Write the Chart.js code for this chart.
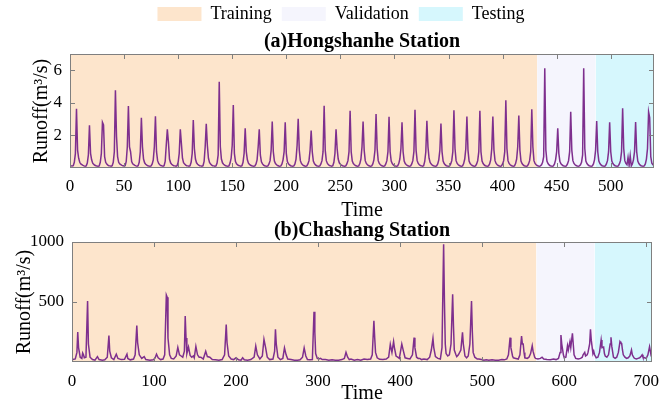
<!DOCTYPE html>
<html>
<head>
<meta charset="utf-8">
<script src="https://cdn.jsdelivr.net/npm/chart.js@4.4.1/dist/chart.umd.min.js"></script>
<style>
  html, body { margin: 0; padding: 0; background: #fff; }
  #wrap { position: relative; width: 669px; height: 409px; }
  canvas { position: absolute; left: 0; }
  #ca { top: 0; }
  #cb { top: 221px; }
</style>
</head>
<body>
<div id="wrap">
  <canvas id="ca" width="669" height="223" style="width:669px;height:223px"></canvas>
  <canvas id="cb" width="669" height="188" style="width:669px;height:188px"></canvas>
</div>
<script>
// (a) Hongshanhe: monthly runoff, one row per year (x = 1..540)
const hongshanheFlow = [
  0.14,0.12,0.14,0.35,0.9,3.63,1.1,0.6,0.35,0.25,0.2,0.16,
  0.13,0.11,0.13,0.3,0.8,2.63,0.9,0.5,0.3,0.22,0.17,0.14,
  0.12,0.11,0.13,0.35,0.9,2.81,2.65,0.7,0.35,0.24,0.18,0.14,
  0.13,0.11,0.14,0.35,1.0,4.78,1.95,0.7,0.35,0.25,0.2,0.16,
  0.14,0.12,0.14,0.4,1.3,3.81,1.3,1.0,0.4,0.26,0.2,0.16,
  0.13,0.11,0.14,0.35,1.0,3.08,1.3,0.55,0.32,0.23,0.18,0.14,
  0.12,0.11,0.13,0.25,0.5,1.3,3.18,1.0,0.45,0.28,0.2,0.15,
  0.13,0.11,0.14,0.4,1.4,2.38,1.6,0.55,0.32,0.23,0.18,0.14,
  0.13,0.11,0.14,0.35,0.9,2.38,1.5,0.6,0.33,0.24,0.18,0.14,
  0.13,0.11,0.14,0.35,0.9,2.95,1.2,0.55,0.32,0.23,0.18,0.14,
  0.13,0.11,0.14,0.4,1.3,2.71,1.4,0.6,0.34,0.24,0.18,0.14,
  0.13,0.11,0.13,0.3,0.8,5.29,1.3,0.55,0.32,0.23,0.18,0.14,
  0.12,0.11,0.13,0.3,0.6,1.4,3.86,0.9,0.4,0.26,0.19,0.15,
  0.13,0.11,0.14,0.35,0.9,2.44,1.0,0.5,0.3,0.22,0.17,0.14,
  0.12,0.11,0.13,0.25,0.5,1.3,2.38,0.8,0.38,0.25,0.18,0.14,
  0.12,0.11,0.13,0.25,0.45,1.1,2.85,1.0,0.42,0.27,0.2,0.15,
  0.12,0.11,0.13,0.25,0.5,1.0,2.81,0.9,0.4,0.26,0.19,0.14,
  0.12,0.11,0.13,0.25,0.55,1.4,3.02,1.1,0.45,0.28,0.2,0.15,
  0.12,0.11,0.13,0.25,0.45,1.1,2.30,1.0,0.42,0.27,0.19,0.14,
  0.12,0.11,0.13,0.25,0.45,1.0,3.82,1.1,0.45,0.28,0.2,0.15,
  0.13,0.11,0.14,0.35,0.9,2.38,1.2,0.55,0.32,0.23,0.18,0.14,
  0.12,0.11,0.13,0.25,0.45,1.0,3.51,1.0,0.42,0.27,0.2,0.15,
  0.12,0.11,0.13,0.27,0.55,1.3,2.85,1.1,0.45,0.28,0.2,0.15,
  0.12,0.11,0.13,0.25,0.5,1.1,3.32,1.2,0.45,0.28,0.2,0.15,
  0.12,0.11,0.13,0.25,0.45,1.0,3.14,1.0,0.42,0.27,0.19,0.14,
  0.12,0.11,0.13,0.27,0.55,1.2,2.81,1.0,0.42,0.27,0.2,0.15,
  0.12,0.11,0.13,0.25,0.45,1.0,3.57,1.1,0.45,0.28,0.2,0.15,
  0.13,0.11,0.14,0.4,1.0,2.90,1.3,0.6,0.34,0.24,0.18,0.14,
  0.12,0.11,0.13,0.25,0.5,1.1,2.73,1.0,0.42,0.27,0.19,0.14,
  0.12,0.11,0.13,0.25,0.45,1.0,3.55,1.2,0.45,0.28,0.2,0.15,
  0.12,0.11,0.13,0.27,0.55,1.2,3.16,1.1,0.42,0.27,0.2,0.15,
  0.12,0.11,0.13,0.25,0.45,1.0,3.51,1.0,0.42,0.27,0.19,0.14,
  0.12,0.11,0.13,0.25,0.5,1.2,3.16,1.1,0.45,0.28,0.2,0.15,
  0.12,0.11,0.13,0.25,0.45,1.0,4.16,1.2,0.45,0.28,0.2,0.15,
  0.12,0.11,0.13,0.27,0.55,1.3,3.22,1.1,0.42,0.27,0.19,0.14,
  0.12,0.11,0.13,0.25,0.45,1.0,3.61,1.3,0.45,0.28,0.2,0.15,
  0.12,0.11,0.13,0.2,0.35,0.7,6.13,1.1,0.42,0.27,0.19,0.14,
  0.12,0.11,0.13,0.25,0.5,1.0,2.44,0.9,0.4,0.26,0.19,0.14,
  0.12,0.11,0.13,0.25,0.45,1.0,3.45,1.1,0.45,0.28,0.2,0.15,
  0.12,0.11,0.13,0.2,0.35,0.8,6.13,1.2,0.42,0.27,0.19,0.14,
  0.12,0.11,0.13,0.25,0.5,1.1,2.89,1.0,0.42,0.27,0.19,0.14,
  0.12,0.11,0.13,0.25,0.45,1.0,2.81,1.0,0.42,0.27,0.19,0.14,
  0.12,0.11,0.13,0.25,0.45,1.0,3.67,1.2,0.45,0.28,0.2,0.65,
  0.15,0.75,0.13,0.25,0.5,1.0,2.83,1.0,0.42,0.27,0.19,0.14,
  0.12,0.11,0.13,0.25,0.55,1.2,3.45,3.1,0.7,0.3,0.2,0.15
];
const hongshanheTime = hongshanheFlow.map((_, i) => i + 1);
const hongshanheSplit = [432, 486];        // training | validation | testing
const hongshanheXTicks = [0, 50, 100, 150, 200, 250, 300, 350, 400, 450, 500];
const hongshanheYTicks = [2, 4, 6];

// (b) Chashang: points
const chashangTime = [
  1,4,6,7,8,10,12,13,14,15,
  17,19,20,22,25,28,31,33,37,40,
  43,45,46,48,51,54,56,60,64,67,
  68,71,75,77,79,80,82,85,88,90,
  95,99,101,103,105,108,111,113,115,116,
  117,119,121,124,127,129,131,133,135,137,
  138,139,140,142,144,146,148,149,151,153,
  155,157,160,163,165,168,171,175,179,183,
  186,188,189,191,194,197,200,203,206,208,
  210,214,218,222,224,226,229,232,234,236,
  238,241,245,247,248,249,251,254,257,259,
  261,263,267,271,275,278,281,283,285,287,
  290,293,295,296,297,299,301,303,305,309,
  313,317,321,325,329,332,334,336,338,340,
  344,348,352,356,360,364,366,368,369,370,
  372,375,379,383,386,388,390,392,393,395,
  397,399,402,404,406,409,412,415,417,418,
  420,422,424,426,429,433,436,438,440,441,
  443,446,449,451,453,454,455,456,458,460,
  462,464,465,466,468,469,471,474,476,477,
  479,481,483,485,487,488,489,491,494,496,
  499,502,505,508,512,516,520,524,527,530,
  532,534,535,537,538,541,544,546,548,549,
  550,551,552,555,557,559,561,562,564,565,
  568,571,573,575,579,583,587,590,593,595,
  596,597,599,600,602,604,605,607,608,610,
  611,612,614,617,620,622,623,625,626,628,
  629,631,632,633,635,636,637,639,641,643,
  645,646,648,649,650,652,654,656,657,658,
  660,662,664,666,668,669,670,671,672,674,
  676,678,680,682,683,685,686,688,690,692,
  694,695,696,698,700,702,704,705,706,707
];
const chashangFlow = [
  20,25,80,250,120,40,30,75,60,35,
  40,508,150,40,20,15,45,20,15,18,
  40,220,90,35,20,65,30,20,22,65,
  30,18,25,60,303,160,60,30,45,20,
  15,18,30,65,35,20,25,60,558,540,
  200,60,30,25,50,122,60,50,40,90,
  383,200,70,125,55,40,50,35,130,60,
  40,40,25,90,45,40,20,18,15,20,
  60,313,160,50,25,20,35,18,15,35,
  18,15,20,40,133,60,25,50,189,120,
  40,20,25,90,272,150,40,20,30,117,
  60,25,20,15,15,18,40,117,50,20,
  18,20,419,250,70,30,25,30,20,20,
  15,18,15,15,20,30,80,40,20,25,
  15,20,15,25,20,25,60,344,200,80,
  35,22,20,25,40,147,80,170,120,50,
  40,30,150,90,35,30,25,60,203,120,
  40,30,30,20,25,20,40,100,197,120,
  45,30,25,120,981,500,150,70,50,60,
  150,564,300,100,60,45,60,100,247,150,
  50,35,50,150,508,250,80,40,25,25,
  20,15,18,15,18,15,15,20,18,25,
  60,203,120,50,35,30,25,60,217,150,
  150,80,35,30,40,70,136,90,40,30,
  25,30,40,25,20,18,25,20,30,80,
  225,150,60,35,40,136,100,170,120,239,
  150,60,30,25,30,40,60,80,50,60,
  80,150,272,180,70,90,60,35,40,80,
  183,120,125,70,50,40,60,150,206,130,
  40,30,40,80,170,160,155,100,60,40,
  30,35,50,100,60,35,30,25,30,35,
  50,60,40,35,30,60,128,90,50,40
];
const chashangSplit = [566, 637];
const chashangXTicks = [0, 100, 200, 300, 400, 500, 600, 700];
const chashangYTicks = [500, 1000];

const FONT = 'Liberation Serif';
const LINE_COLOR = '#7e2f8e';
const SHADES = ['#fde5cc', '#f5f5fd', '#d6f7fd'];
const PERIODS = ['Training', 'Validation', 'Testing'];

// MATLAB-style box with inward tick marks on all four sides
const boxTicks = {
  id: 'boxTicks',
  afterDatasetsDraw(chart) {
    const { ctx, chartArea: a, scales: { x, y } } = chart;
    ctx.save();
    ctx.strokeStyle = '#7f7f7f';
    ctx.lineWidth = 1;
    ctx.beginPath();
    x.ticks.forEach(t => {
      const p = Math.round(x.getPixelForValue(t.value)) + 0.5;
      ctx.moveTo(p, a.bottom); ctx.lineTo(p, a.bottom - 5);
      ctx.moveTo(p, a.top); ctx.lineTo(p, a.top + 5);
    });
    y.ticks.forEach(t => {
      const p = Math.round(y.getPixelForValue(t.value)) + 0.5;
      ctx.moveTo(a.left, p); ctx.lineTo(a.left + 5, p);
      ctx.moveTo(a.right, p); ctx.lineTo(a.right - 5, p);
    });
    ctx.stroke();
    ctx.strokeRect(Math.round(a.left) + 0.5, Math.round(a.top) + 0.5,
                   Math.round(a.width) - 1, Math.round(a.height) - 1);
    ctx.restore();
  }
};

function shade(i, x0, x1, top) {
  return {
    label: PERIODS[i], type: 'line',
    data: [{ x: x0, y: top }, { x: x1, y: top }],
    backgroundColor: SHADES[i], borderColor: SHADES[i], borderWidth: 0,
    pointRadius: 0, fill: 'origin', order: 2
  };
}

function panel(id, c) {
  const series = c.time.map((t, i) => ({ x: t, y: c.flow[i] }));
  return new Chart(document.getElementById(id), {
    type: 'line',
    data: {
      datasets: [
        { label: 'Runoff', data: series, borderColor: LINE_COLOR, borderWidth: 1.5,
          pointRadius: 0, tension: 0, fill: false, order: 1 },
        shade(0, 0, c.split[0], c.yMax),
        shade(1, c.split[0], c.split[1], c.yMax),
        shade(2, c.split[1], c.xMax, c.yMax)
      ]
    },
    options: {
      responsive: false,
      animation: false,
      devicePixelRatio: 1,
      layout: { padding: c.pad },
      plugins: {
        legend: {
          display: c.legend, weight: 1000, maxHeight: 28,
          labels: {
            filter: item => item.datasetIndex > 0,
            boxWidth: 44, boxHeight: 14, padding: 10,
            color: '#000', font: { family: FONT, size: 18 }
          }
        },
        title: {
          display: true, text: c.title, weight: 500, fullSize: false,
          color: '#000', font: { family: FONT, size: 20, weight: 'bold', lineHeight: 1 },
          padding: c.titlePad
        },
        tooltip: { enabled: false }
      },
      scales: {
        x: {
          type: 'linear', min: 0, max: c.xMax,
          grid: { display: false, drawTicks: false }, border: { display: false },
          afterBuildTicks: s => { s.ticks = c.xTicks.map(v => ({ value: v })); },
          afterFit: s => { s.height = c.xH; },
          ticks: { padding: c.xTickPad, autoSkip: false, maxRotation: 0, color: '#000',
                   font: { family: FONT, size: 17 }, callback: v => String(v) },
          title: { display: true, text: 'Time', color: '#000',
                   font: { family: FONT, size: 20 }, padding: { top: 0, bottom: c.xTitlePad } }
        },
        y: {
          min: 0, max: c.yMax,
          grid: { display: false, drawTicks: false }, border: { display: false },
          afterBuildTicks: s => { s.ticks = c.yTicks.map(v => ({ value: v })); },
          afterFit: s => { s.width = c.yW; },
          ticks: { padding: 8, color: '#000', font: { family: FONT, size: 17 },
                   callback: v => String(v) },
          title: { display: true, text: 'Runoff(m³/s)', color: '#000',
                   font: { family: FONT, size: 20 }, padding: { top: c.yTitlePad, bottom: 0 } }
        },
        // empty right-hand strip, keeps the plot box off the edge
        yR: {
          position: 'right', min: 0, max: 1,
          grid: { display: false, drawTicks: false }, border: { display: false },
          ticks: { display: false },
          afterFit: s => { s.width = c.rightW; }
        }
      }
    },
    plugins: [boxTicks]
  });
}

panel('ca', {
  time: hongshanheTime, flow: hongshanheFlow, split: hongshanheSplit,
  xMax: 540, yMax: 7, xTicks: hongshanheXTicks, yTicks: hongshanheYTicks,
  title: '(a)Hongshanhe Station', legend: true,
  pad: { top: -5, left: 13, right: 0, bottom: 0 },
  titlePad: { top: 9, bottom: 2 },
  xH: 55, xTickPad: 8, xTitlePad: 0, yW: 57, yTitlePad: 17, rightW: 15
});

panel('cb', {
  time: chashangTime, flow: chashangFlow, split: chashangSplit,
  xMax: 707, yMax: 1000, xTicks: chashangXTicks, yTicks: chashangYTicks,
  title: '(b)Chashang Station', legend: false,
  pad: { top: 0, left: 0, right: 0, bottom: 0 },
  titlePad: { top: 0, bottom: 1 },
  xH: 47, xTickPad: 9, xTitlePad: 3, yW: 72, yTitlePad: 13, rightW: 17
});
</script>
</body>
</html>
